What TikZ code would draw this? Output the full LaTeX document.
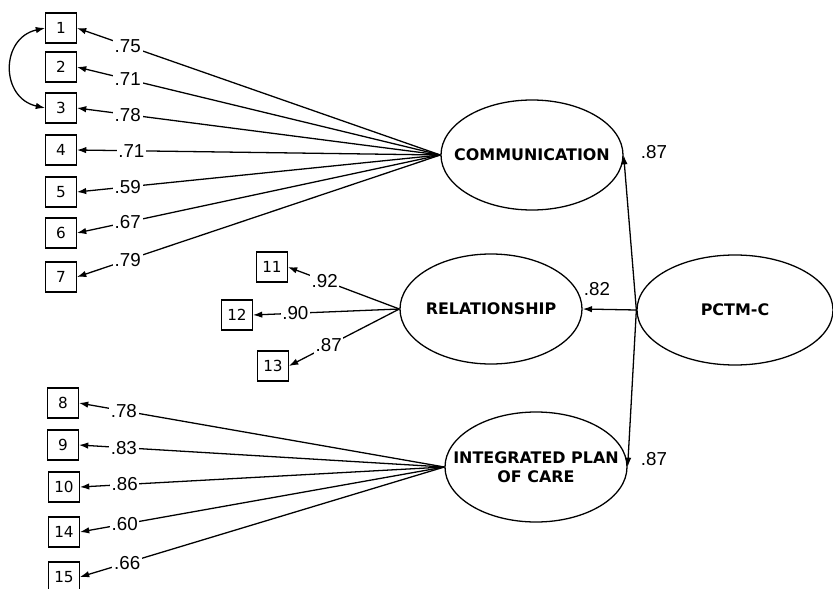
\documentclass[tikz,border=0pt]{standalone}
\usepackage{fontspec}
\setmainfont{Liberation Sans}
\newfontfamily\dvs{DejaVu Sans}
\usetikzlibrary{shapes.geometric,arrows.meta}
\begin{document}
\begin{tikzpicture}[x=0.03cm,y=-0.03cm,
 box/.style={draw,line width=1.1pt,minimum width=26pt,minimum height=25.5pt,inner sep=0pt,font=\dvs\fontsize{13}{15}\selectfont},
 lat/.style={draw,ellipse,line width=1.1pt,inner sep=0pt,minimum width=5.46cm,minimum height=3.3cm},
 lattext/.style={align=center,inner sep=0pt,font=\dvs\bfseries\fontsize{13.6}{16}\selectfont},
 lbl/.style={fill=white,inner sep=1.5pt,font=\fontsize{16}{18}\selectfont},
 ld/.style={line width=1.1pt,-{Latex[length=8pt,width=5.5pt]}},
 cov/.style={line width=1.1pt,{Latex[length=8pt,width=5.5pt]}-{Latex[length=8pt,width=5.5pt]}},
]
\useasboundingbox (0,0) rectangle (833,589);
% observed boxes
\node[box] (b1) at (61,28) {1};
\node[box] (b2) at (61,67) {2};
\node[box] (b3) at (61,108) {3};
\node[box] (b4) at (61,150) {4};
\node[box] (b5) at (61,192) {5};
\node[box] (b6) at (61,233) {6};
\node[box] (b7) at (61,277) {7};
\node[box] (b11) at (272,267) {11};
\node[box] (b12) at (237,315) {12};
\node[box] (b13) at (273,366) {13};
\node[box] (b8) at (63,403) {8};
\node[box] (b9) at (63,445) {9};
\node[box] (b10) at (64,487) {10};
\node[box] (b14) at (64,532) {14};
\node[box] (b15) at (64,577) {15};
% latent ellipses
\node[lat] (comm) at (532,155) {};
\node[lattext] (commt) at (comm.center) {COMMUNICATION};
\node[lat] (rel) at (491,309) {};
\node[lattext] (relt) at (rel.center) {RELATIONSHIP};
\node[lat] (ipc) at (536,467) {};
\node[lattext] (ipct) at (ipc.center) {INTEGRATED PLAN\\OF CARE};
\node[lat,minimum width=5.88cm] (pctm) at (735,310) {};
\node[lattext] (pctmt) at (pctm.center) {PCTM-C};
% communication loadings
\draw[ld] (comm.west) -- node[lbl,pos=0.86]{.75} (b1.east);
\draw[ld] (comm.west) -- node[lbl,pos=0.86]{.71} (b2.east);
\draw[ld] (comm.west) -- node[lbl,pos=0.86]{.78} (b3.east);
\draw[ld] (comm.west) -- node[lbl,pos=0.85]{.71} (b4.east);
\draw[ld] (comm.west) -- node[lbl,pos=0.86]{.59} (b5.east);
\draw[ld] (comm.west) -- node[lbl,pos=0.86]{.67} (b6.east);
\draw[ld] (comm.west) -- node[lbl,pos=0.86]{.79} (b7.east);
% relationship loadings
\draw[ld] (rel.west) -- node[lbl,pos=0.67]{.92} (b11.east);
\draw[ld] (rel.west) -- node[lbl,pos=0.71]{.90} (b12.east);
\draw[ld] (rel.west) -- node[lbl,pos=0.64]{.87} (b13.east);
% integrated plan of care loadings
\draw[ld] (ipc.west) -- node[lbl,pos=0.877]{.78} (b8.east);
\draw[ld] (ipc.west) -- node[lbl,pos=0.877]{.83} (b9.east);
\draw[ld] (ipc.west) -- node[lbl,pos=0.877]{.86} (b10.east);
\draw[ld] (ipc.west) -- node[lbl,pos=0.877]{.60} (b14.east);
\draw[ld] (ipc.west) -- node[lbl,pos=0.87]{.66} (b15.east);
% covariance
\draw[cov] (b1.west) .. controls +(-45,10) and +(-45,-10) .. (b3.west);
% second order
\draw[ld] (pctm.west) -- (comm.east);
\draw[ld] (pctm.west) -- (rel.east);
\draw[ld] (pctm.west) -- (ipc.east);
\node[lbl,fill=none] (l1) at (654,152) {.87};
\node[lbl,fill=none] (l2) at (597,289) {.82};
\node[lbl,fill=none] (l3) at (654,459) {.87};
\end{tikzpicture}
\end{document}
